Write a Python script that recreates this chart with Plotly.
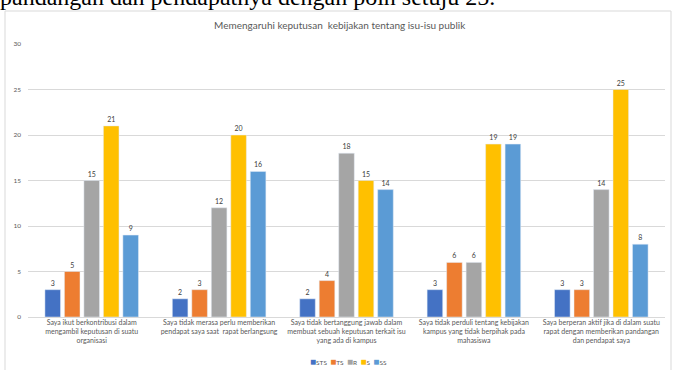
import plotly.graph_objects as go

categories = [
    "Saya ikut berkontribusi dalam<br>mengambil keputusan di suatu<br>organisasi",
    "Saya tidak merasa perlu memberikan<br>pendapat saya saat  rapat berlangsung",
    "Saya tidak bertanggung jawab dalam<br>membuat sebuah keputusan terkait isu<br>yang ada di kampus",
    "Saya tidak perduli tentang kebijakan<br>kampus yang tidak berpihak pada<br>mahasiswa",
    "Saya berperan aktif jika di dalam suatu<br>rapat dengan memberikan pandangan<br>dan pendapat saya",
]
series_names = ["STS", "TS", "R", "S", "SS"]
sts = [3, 2, 2, 3, 3]
ts = [5, 3, 4, 6, 3]
r = [15, 12, 18, 6, 14]
s = [21, 20, 15, 19, 25]
ss = [9, 16, 14, 19, 8]
series_values = [sts, ts, r, s, ss]
colors = ["#4472C4", "#ED7D31", "#A5A5A5", "#FFC000", "#5B9BD5"]
y_ticks = [0, 5, 10, 15, 20, 25, 30]
chart_title = "Memengaruhi keputusan  kebijakan tentang isu-isu publik"
doc_text = "pandangan dan pendapatnya dengan poin setuju 25."

FONT = "Lato"
GRAY = "#595959"

fig = go.Figure()
for name, vals, col in zip(series_names, series_values, colors):
    fig.add_trace(go.Bar(
        x=categories, y=vals, name=name, marker_color=col,
        text=[str(v) for v in vals], textposition="outside",
        outsidetextfont=dict(size=7, color="#404040", family=FONT),
        cliponaxis=False, showlegend=False,
    ))

legend_text = "  ".join(
    f"<span style='color:{c};font-size:10px'>■</span>{n}" for n, c in zip(series_names, colors)
)

fig.update_layout(
    width=673, height=370,
    margin=dict(l=28, r=8, t=44, b=53),
    paper_bgcolor="white", plot_bgcolor="white",
    barmode="group", bargap=0.235, bargroupgap=0.2,
    font=dict(family=FONT, color=GRAY),
    xaxis=dict(tickfont=dict(size=7, color=GRAY, family=FONT), showgrid=False,
               showline=False, ticks=""),
    yaxis=dict(range=[0, 30], tickvals=y_ticks, tickfont=dict(size=6.5, color=GRAY, family=FONT),
               gridcolor="#D9D9D9", gridwidth=1, zeroline=True, zerolinecolor="#D9D9D9",
               zerolinewidth=1, showline=False, ticklabelstandoff=6),
    annotations=[
        dict(text=chart_title, xref="paper", yref="paper", x=0.4897, y=(317 - 25) / 273,
             xanchor="center", yanchor="middle", showarrow=False,
             font=dict(size=10, color=GRAY, family=FONT)),
        dict(text=doc_text, xref="paper", yref="paper", x=-30 / 637, y=(317 - 12) / 273,
             xanchor="left", yanchor="bottom", showarrow=False,
             font=dict(size=24, color="black", family="Liberation Serif")),
        dict(text=legend_text, xref="paper", yref="paper", x=(348 - 28) / 637,
             y=(317 - 361) / 273, xanchor="center", yanchor="middle", showarrow=False,
             font=dict(size=6.5, color=GRAY, family=FONT)),
    ],
    shapes=[
        dict(type="rect", xref="paper", yref="paper", x0=-23 / 637, x1=643 / 637,
             y0=-0.4, y1=(317 - 11) / 273, line=dict(color="#D9D9D9", width=1),
             fillcolor="rgba(0,0,0,0)", layer="below"),
    ],
)

fig.write_html("out.html")
